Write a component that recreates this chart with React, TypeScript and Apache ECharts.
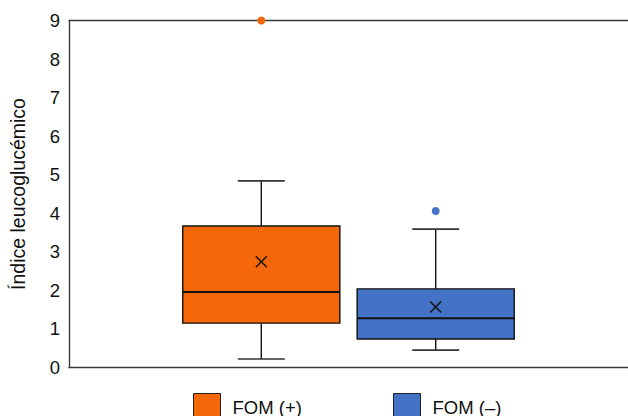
import React, { useEffect, useRef } from "react";
import * as echarts from "echarts";

const groups = ["FOM (+)", "FOM (–)"];
const colors = ["#F5680A", "#4472C4"];
// [min, q1, median, q3, max]
const boxStats = [
  [0.22, 1.15, 1.96, 3.67, 4.84],
  [0.45, 0.74, 1.28, 2.04, 3.59],
];
const means = [2.74, 1.57];
const outliers = [[9.0], [4.06]];
const yTicks = [0, 1, 2, 3, 4, 5, 6, 7, 8, 9];

export default function App() {
  const ref = useRef<HTMLDivElement>(null);
  useEffect(() => {
    if (!ref.current) return;
    const chart = echarts.init(ref.current, null, { renderer: "svg" });
    const font = "'Liberation Sans', Arial, Helvetica, sans-serif";
    const offsets = [-0.156, 0.156];
    const series: any[] = groups.map((name, si) => ({
      type: "custom",
      name,
      itemStyle: { color: colors[si] },
      data: [[0, ...boxStats[si], means[si], ...outliers[si]]],
      renderItem: (params: any, api: any) => {
        const band = api.size([1, 0])[0];
        const cx = api.coord([api.value(0), 0])[0] + offsets[params.seriesIndex] * band;
        const y = (v: number) => api.coord([0, v])[1];
        const w = band * 0.281;
        const cap = band * 0.084;
        const mn = api.value(1), q1 = api.value(2), md = api.value(3), q3 = api.value(4), mx = api.value(5), mean = api.value(6);
        const lineStyle = { stroke: "#111", lineWidth: 1.4 };
        const children: any[] = [
          { type: "line", shape: { x1: cx, y1: y(mx), x2: cx, y2: y(q3) }, style: lineStyle },
          { type: "line", shape: { x1: cx, y1: y(q1), x2: cx, y2: y(mn) }, style: lineStyle },
          { type: "line", shape: { x1: cx - cap / 2, y1: y(mx), x2: cx + cap / 2, y2: y(mx) }, style: { stroke: "#333", lineWidth: 1.6 } },
          { type: "line", shape: { x1: cx - cap / 2, y1: y(mn), x2: cx + cap / 2, y2: y(mn) }, style: { stroke: "#333", lineWidth: 1.6 } },
          {
            type: "rect",
            shape: { x: cx - w / 2, y: y(q3), width: w, height: y(q1) - y(q3) },
            style: { fill: colors[params.seriesIndex], stroke: "#111", lineWidth: 1.4 },
          },
          { type: "line", shape: { x1: cx - w / 2, y1: y(md), x2: cx + w / 2, y2: y(md) }, style: { stroke: "#111", lineWidth: 2 } },
          { type: "line", shape: { x1: cx - 5.5, y1: y(mean) - 5.5, x2: cx + 5.5, y2: y(mean) + 5.5 }, style: { stroke: "#111", lineWidth: 1.4 } },
          { type: "line", shape: { x1: cx - 5.5, y1: y(mean) + 5.5, x2: cx + 5.5, y2: y(mean) - 5.5 }, style: { stroke: "#111", lineWidth: 1.4 } },
        ];
        const outs = outliers[params.seriesIndex];
        outs.forEach((o) => {
          children.push({ type: "circle", shape: { cx, cy: y(o), r: 4 }, style: { fill: colors[params.seriesIndex] } });
        });
        return { type: "group", children };
      },
    }));

    chart.setOption({
      animation: false,
      textStyle: { fontFamily: font },
      grid: { left: 69, right: 0, top: 20.5, bottom: 48.5 },
      legend: groups.map((g, i) => ({
        data: [{ name: g, icon: "rect" }],
        left: i === 0 ? 193 : 393,
        top: 393,
        padding: 0,
        itemWidth: 27,
        itemHeight: 27,
        itemStyle: { borderColor: "#222", borderWidth: 1 },
        textStyle: { fontSize: 18.5, lineHeight: 18, color: "#111", fontFamily: font, padding: [0, 0, 0, 7] },
        selectedMode: false,
      })),
      xAxis: [
        {
          type: "category",
          data: ["FOM"],
          axisLine: { show: true, lineStyle: { color: "#3a3a3a", width: 1.4 } },
          axisTick: { show: false },
          axisLabel: { show: false },
        },
        {
          type: "category",
          position: "top",
          data: ["FOM"],
          axisLine: { show: true, onZero: false, lineStyle: { color: "#3a3a3a", width: 1.4 } },
          axisTick: { show: false },
          axisLabel: { show: false },
        },
      ],
      yAxis: {
        type: "value",
        min: yTicks[0],
        max: yTicks[yTicks.length - 1],
        interval: 1,
        name: "Índice leucoglucémico",
        nameLocation: "middle",
        nameGap: 41,
        nameTextStyle: { fontSize: 19.5, color: "#111", fontFamily: font },
        axisLine: { show: true, lineStyle: { color: "#3a3a3a", width: 1.4 } },
        axisTick: { show: false },
        splitLine: { show: false },
        axisLabel: { fontSize: 18.5, color: "#111", margin: 9, fontFamily: font },
      },
      series,
    });
    return () => chart.dispose();
  }, []);
  return <div ref={ref} style={{ width: 628, height: 416, position: "absolute", left: 0, top: 0 }} />;
}
